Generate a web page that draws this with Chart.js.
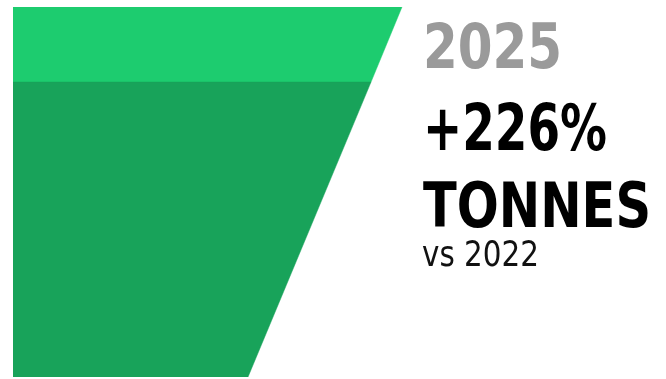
<!DOCTYPE html>
<html>
<head>
<meta charset="utf-8">
<script src="https://cdn.jsdelivr.net/npm/chart.js@4/dist/chart.umd.min.js"></script>
<style>
  html, body { margin: 0; padding: 0; background: #ffffff; }
  #wrap { width: 666px; height: 379px; position: relative; }
</style>
</head>
<body>
<div id="wrap"><canvas id="c" width="666" height="379"></canvas></div>
<script>
// Funnel levels (share of height, bottom = 0, top = 100)
const levels = [0, 79.7, 100];
// Width of the funnel at each level, in x-scale units
const edgeWidths = [235, 358, 389];
const fillColors = ['#18a35a', '#1dcc6f'];

// Headline block to the right of the funnel
const headlineYear = '2025';
const headlineChange = '+226%';
const headlineUnit = 'TONNES';
const headlineBase = 'vs 2022';

// One closed polygon per band: from level i to level i+1
function bandPolygon(i) {
  return [
    { x: 0, y: levels[i] },
    { x: edgeWidths[i], y: levels[i] },
    { x: edgeWidths[i + 1], y: levels[i + 1] },
    { x: 0, y: levels[i + 1] },
    { x: 0, y: levels[i] }
  ];
}

const datasets = [];
for (let i = 0; i < levels.length - 1; i++) {
  datasets.push({
    data: bandPolygon(i),
    showLine: true,
    fill: 'shape',
    backgroundColor: fillColors[i],
    borderColor: fillColors[i],
    borderWidth: 0.5,
    pointRadius: 0,
    tension: 0
  });
}

const lines = [
  { text: headlineYear, weight: 'bold', color: '#9a9a9a', left: 423, baseline: 68, cap: 45, width: 139 },
  { text: headlineChange, weight: 'bold', color: '#000000', left: 423, baseline: 150, cap: 47, width: 184 },
  { text: headlineUnit, weight: 'bold', color: '#000000', left: 423, baseline: 227, cap: 45, width: 228 },
  { text: headlineBase, weight: 'normal', color: '#111111', left: 422, baseline: 266, cap: 26, width: 117 }
];

const headlinePlugin = {
  id: 'headline',
  afterDraw(chart) {
    const ctx = chart.ctx;
    ctx.save();
    ctx.textBaseline = 'alphabetic';
    ctx.textAlign = 'left';
    lines.forEach(l => {
      const size = l.cap / 0.729;
      ctx.font = l.weight + ' ' + size.toFixed(1) + 'px "DejaVu Sans Condensed", "DejaVu Sans", sans-serif';
      const w = ctx.measureText(l.text).width;
      const sx = l.width / w;
      ctx.save();
      ctx.translate(l.left, l.baseline);
      ctx.scale(sx, 1);
      ctx.fillStyle = l.color;
      ctx.fillText(l.text, 0, 0);
      ctx.restore();
    });
    ctx.restore();
  }
};

new Chart(document.getElementById('c'), {
  type: 'scatter',
  data: { datasets },
  options: {
    responsive: false,
    animation: false,
    layout: { padding: { left: 13, top: 7, right: 0, bottom: 2 } },
    plugins: { legend: { display: false }, tooltip: { enabled: false } },
    scales: {
      x: { type: 'linear', display: false, min: 0, max: 653 },
      y: { type: 'linear', display: false, min: 0, max: 100 }
    }
  },
  plugins: [headlinePlugin]
});
</script>
</body>
</html>
